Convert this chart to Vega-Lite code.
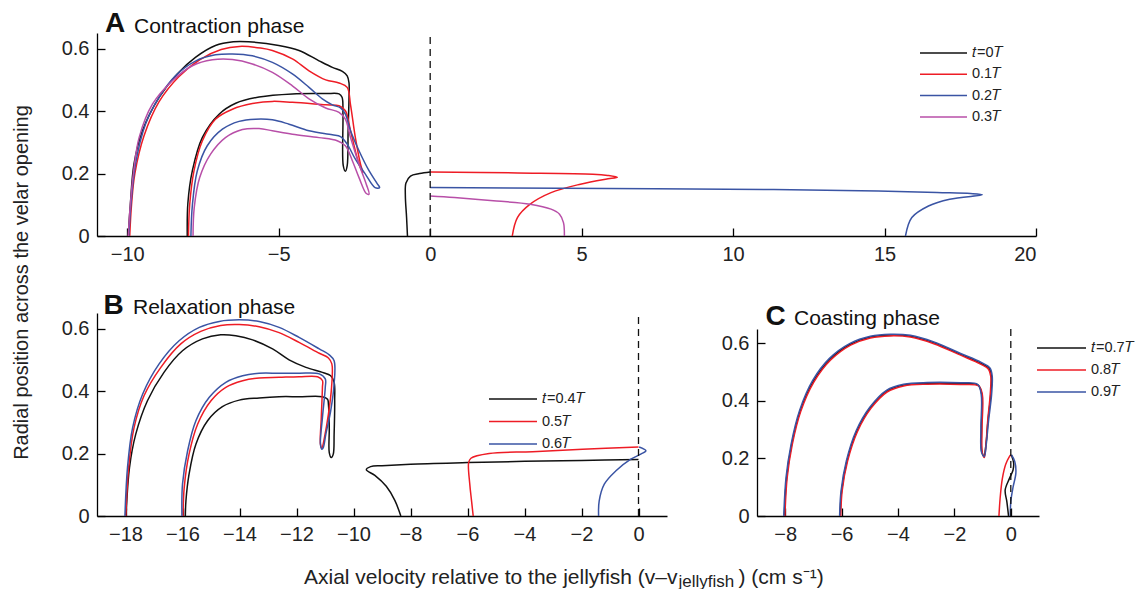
{
  "$schema": "https://vega.github.io/schema/vega-lite/v6.json",
  "background": "white",
  "padding": {"left": 10, "top": 10, "right": 5, "bottom": 0},
  "title": {"text": "A", "anchor": "start", "frame": "group", "fontSize": 28, "fontWeight": "bold", "color": "#111", "offset": -22.4, "dx": 8},
  "config": {
    "font": "Liberation Sans",
    "view": {"stroke": null},
    "axis": {"grid": false, "domainColor": "#000", "domainWidth": 1.3, "tickColor": "#000", "tickWidth": 1.3, "tickSize": -8, "labelPadding": 16, "labelFont": "Liberation Sans", "labelFontSize": 20, "labelColor": "#222", "titleFont": "Liberation Sans", "titleFontSize": 21, "titleFontWeight": "normal", "titleColor": "#222"},
    "title": {"font": "Liberation Sans", "subtitleFont": "Liberation Sans"},
    "legend": {"labelFont": "Liberation Sans"}
  },
  "datasets": {
    "a": [
      {"s":"𝑡=0𝑇","g":"a0l","i":1,"x":-9.97,"y":0},{"s":"𝑡=0𝑇","g":"a0l","i":2,"x":-9.9,"y":0.1},{"s":"𝑡=0𝑇","g":"a0l","i":3,"x":-9.78,"y":0.23},{"s":"𝑡=0𝑇","g":"a0l","i":4,"x":-9.5,"y":0.337},{"s":"𝑡=0𝑇","g":"a0l","i":5,"x":-8.95,"y":0.444},{"s":"𝑡=0𝑇","g":"a0l","i":6,"x":-8.35,"y":0.519},{"s":"𝑡=0𝑇","g":"a0l","i":7,"x":-7.75,"y":0.572},{"s":"𝑡=0𝑇","g":"a0l","i":8,"x":-7.09,"y":0.61},{"s":"𝑡=0𝑇","g":"a0l","i":9,"x":-6.5,"y":0.622},{"s":"𝑡=0𝑇","g":"a0l","i":10,"x":-6.0,"y":0.622},{"s":"𝑡=0𝑇","g":"a0l","i":11,"x":-5.0,"y":0.61},{"s":"𝑡=0𝑇","g":"a0l","i":12,"x":-4.33,"y":0.594},{"s":"𝑡=0𝑇","g":"a0l","i":13,"x":-3.67,"y":0.561},{"s":"𝑡=0𝑇","g":"a0l","i":14,"x":-3.23,"y":0.54},{"s":"𝑡=0𝑇","g":"a0l","i":15,"x":-2.9,"y":0.527},{"s":"𝑡=0𝑇","g":"a0l","i":16,"x":-2.74,"y":0.513},{"s":"𝑡=0𝑇","g":"a0l","i":17,"x":-2.68,"y":0.49},{"s":"𝑡=0𝑇","g":"a0l","i":18,"x":-2.68,"y":0.444},{"s":"𝑡=0𝑇","g":"a0l","i":19,"x":-2.71,"y":0.337},{"s":"𝑡=0𝑇","g":"a0l","i":20,"x":-2.74,"y":0.225},{"s":"𝑡=0𝑇","g":"a0l","i":21,"x":-2.8,"y":0.207},{"s":"𝑡=0𝑇","g":"a0l","i":22,"x":-2.87,"y":0.225},{"s":"𝑡=0𝑇","g":"a0l","i":23,"x":-2.88,"y":0.39},{"s":"𝑡=0𝑇","g":"a0l","i":24,"x":-2.91,"y":0.444},{"s":"𝑡=0𝑇","g":"a0l","i":25,"x":-3.01,"y":0.455},{"s":"𝑡=0𝑇","g":"a0l","i":26,"x":-3.45,"y":0.456},{"s":"𝑡=0𝑇","g":"a0l","i":27,"x":-4.55,"y":0.455},{"s":"𝑡=0𝑇","g":"a0l","i":28,"x":-5.65,"y":0.445},{"s":"𝑡=0𝑇","g":"a0l","i":29,"x":-6.42,"y":0.425},{"s":"𝑡=0𝑇","g":"a0l","i":30,"x":-6.97,"y":0.39},{"s":"𝑡=0𝑇","g":"a0l","i":31,"x":-7.52,"y":0.316},{"s":"𝑡=0𝑇","g":"a0l","i":32,"x":-7.85,"y":0.21},{"s":"𝑡=0𝑇","g":"a0l","i":33,"x":-8.0,"y":0.105},{"s":"𝑡=0𝑇","g":"a0l","i":34,"x":-8.02,"y":0},
      {"s":"𝑡=0𝑇","g":"a0j","i":1,"x":-0.75,"y":0},{"s":"𝑡=0𝑇","g":"a0j","i":2,"x":-0.78,"y":0.06},{"s":"𝑡=0𝑇","g":"a0j","i":3,"x":-0.82,"y":0.13},{"s":"𝑡=0𝑇","g":"a0j","i":4,"x":-0.8,"y":0.17},{"s":"𝑡=0𝑇","g":"a0j","i":5,"x":-0.65,"y":0.192},{"s":"𝑡=0𝑇","g":"a0j","i":6,"x":-0.35,"y":0.2},{"s":"𝑡=0𝑇","g":"a0j","i":7,"x":0,"y":0.205},
      {"s":"0.1𝑇","g":"a1l","i":1,"x":-9.92,"y":0},{"s":"0.1𝑇","g":"a1l","i":2,"x":-9.86,"y":0.1},{"s":"0.1𝑇","g":"a1l","i":3,"x":-9.75,"y":0.2},{"s":"0.1𝑇","g":"a1l","i":4,"x":-9.45,"y":0.32},{"s":"0.1𝑇","g":"a1l","i":5,"x":-8.95,"y":0.43},{"s":"0.1𝑇","g":"a1l","i":6,"x":-8.3,"y":0.51},{"s":"0.1𝑇","g":"a1l","i":7,"x":-7.6,"y":0.565},{"s":"0.1𝑇","g":"a1l","i":8,"x":-6.9,"y":0.597},{"s":"0.1𝑇","g":"a1l","i":9,"x":-6.3,"y":0.607},{"s":"0.1𝑇","g":"a1l","i":10,"x":-5.6,"y":0.602},{"s":"0.1𝑇","g":"a1l","i":11,"x":-5.21,"y":0.594},{"s":"0.1𝑇","g":"a1l","i":12,"x":-4.55,"y":0.567},{"s":"0.1𝑇","g":"a1l","i":13,"x":-4.0,"y":0.529},{"s":"0.1𝑇","g":"a1l","i":14,"x":-3.45,"y":0.5},{"s":"0.1𝑇","g":"a1l","i":15,"x":-3.01,"y":0.49},{"s":"0.1𝑇","g":"a1l","i":16,"x":-2.74,"y":0.476},{"s":"0.1𝑇","g":"a1l","i":17,"x":-2.63,"y":0.42},{"s":"0.1𝑇","g":"a1l","i":18,"x":-2.47,"y":0.315},{"s":"0.1𝑇","g":"a1l","i":19,"x":-2.3,"y":0.23},{"s":"0.1𝑇","g":"a1l","i":20,"x":-2.22,"y":0.203},{"s":"0.1𝑇","g":"a1l","i":21,"x":-2.35,"y":0.23},{"s":"0.1𝑇","g":"a1l","i":22,"x":-2.63,"y":0.337},{"s":"0.1𝑇","g":"a1l","i":23,"x":-2.8,"y":0.401},{"s":"0.1𝑇","g":"a1l","i":24,"x":-3.01,"y":0.417},{"s":"0.1𝑇","g":"a1l","i":25,"x":-3.45,"y":0.42},{"s":"0.1𝑇","g":"a1l","i":26,"x":-4.55,"y":0.428},{"s":"0.1𝑇","g":"a1l","i":27,"x":-5.21,"y":0.431},{"s":"0.1𝑇","g":"a1l","i":28,"x":-5.87,"y":0.424},{"s":"0.1𝑇","g":"a1l","i":29,"x":-6.53,"y":0.406},{"s":"0.1𝑇","g":"a1l","i":30,"x":-7.09,"y":0.374},{"s":"0.1𝑇","g":"a1l","i":31,"x":-7.52,"y":0.305},{"s":"0.1𝑇","g":"a1l","i":32,"x":-7.8,"y":0.208},{"s":"0.1𝑇","g":"a1l","i":33,"x":-7.94,"y":0.1},{"s":"0.1𝑇","g":"a1l","i":34,"x":-7.98,"y":0},
      {"s":"0.1𝑇","g":"a1j","i":1,"x":2.71,"y":0},{"s":"0.1𝑇","g":"a1j","i":2,"x":2.88,"y":0.059},{"s":"0.1𝑇","g":"a1j","i":3,"x":3.3,"y":0.102},{"s":"0.1𝑇","g":"a1j","i":4,"x":3.99,"y":0.139},{"s":"0.1𝑇","g":"a1j","i":5,"x":4.96,"y":0.166},{"s":"0.1𝑇","g":"a1j","i":6,"x":5.79,"y":0.182},{"s":"0.1𝑇","g":"a1j","i":7,"x":6.18,"y":0.188},{"s":"0.1𝑇","g":"a1j","i":8,"x":5.86,"y":0.194},{"s":"0.1𝑇","g":"a1j","i":9,"x":5.37,"y":0.198},{"s":"0.1𝑇","g":"a1j","i":10,"x":2.88,"y":0.202},{"s":"0.1𝑇","g":"a1j","i":11,"x":0,"y":0.205},
      {"s":"0.2𝑇","g":"a2l","i":1,"x":-9.95,"y":0},{"s":"0.2𝑇","g":"a2l","i":2,"x":-9.88,"y":0.1},{"s":"0.2𝑇","g":"a2l","i":3,"x":-9.73,"y":0.23},{"s":"0.2𝑇","g":"a2l","i":4,"x":-9.4,"y":0.358},{"s":"0.2𝑇","g":"a2l","i":5,"x":-8.95,"y":0.444},{"s":"0.2𝑇","g":"a2l","i":6,"x":-8.41,"y":0.513},{"s":"0.2𝑇","g":"a2l","i":7,"x":-7.75,"y":0.56},{"s":"0.2𝑇","g":"a2l","i":8,"x":-7.09,"y":0.58},{"s":"0.2𝑇","g":"a2l","i":9,"x":-6.53,"y":0.583},{"s":"0.2𝑇","g":"a2l","i":10,"x":-5.87,"y":0.577},{"s":"0.2𝑇","g":"a2l","i":11,"x":-5.21,"y":0.556},{"s":"0.2𝑇","g":"a2l","i":12,"x":-4.55,"y":0.519},{"s":"0.2𝑇","g":"a2l","i":13,"x":-4.0,"y":0.476},{"s":"0.2𝑇","g":"a2l","i":14,"x":-3.56,"y":0.439},{"s":"0.2𝑇","g":"a2l","i":15,"x":-3.23,"y":0.42},{"s":"0.2𝑇","g":"a2l","i":16,"x":-2.96,"y":0.41},{"s":"0.2𝑇","g":"a2l","i":17,"x":-2.8,"y":0.39},{"s":"0.2𝑇","g":"a2l","i":18,"x":-2.63,"y":0.337},{"s":"0.2𝑇","g":"a2l","i":19,"x":-2.35,"y":0.273},{"s":"0.2𝑇","g":"a2l","i":20,"x":-2.02,"y":0.209},{"s":"0.2𝑇","g":"a2l","i":21,"x":-1.75,"y":0.168},{"s":"0.2𝑇","g":"a2l","i":22,"x":-1.67,"y":0.155},{"s":"0.2𝑇","g":"a2l","i":23,"x":-1.82,"y":0.155},{"s":"0.2𝑇","g":"a2l","i":24,"x":-2.14,"y":0.198},{"s":"0.2𝑇","g":"a2l","i":25,"x":-2.47,"y":0.246},{"s":"0.2𝑇","g":"a2l","i":26,"x":-2.74,"y":0.294},{"s":"0.2𝑇","g":"a2l","i":27,"x":-2.96,"y":0.318},{"s":"0.2𝑇","g":"a2l","i":28,"x":-3.23,"y":0.324},{"s":"0.2𝑇","g":"a2l","i":29,"x":-4.0,"y":0.337},{"s":"0.2𝑇","g":"a2l","i":30,"x":-4.66,"y":0.358},{"s":"0.2𝑇","g":"a2l","i":31,"x":-5.21,"y":0.372},{"s":"0.2𝑇","g":"a2l","i":32,"x":-5.77,"y":0.374},{"s":"0.2𝑇","g":"a2l","i":33,"x":-6.31,"y":0.367},{"s":"0.2𝑇","g":"a2l","i":34,"x":-6.86,"y":0.342},{"s":"0.2𝑇","g":"a2l","i":35,"x":-7.36,"y":0.289},{"s":"0.2𝑇","g":"a2l","i":36,"x":-7.69,"y":0.208},{"s":"0.2𝑇","g":"a2l","i":37,"x":-7.85,"y":0.1},{"s":"0.2𝑇","g":"a2l","i":38,"x":-7.9,"y":0},
      {"s":"0.2𝑇","g":"a2j","i":1,"x":15.69,"y":0},{"s":"0.2𝑇","g":"a2j","i":2,"x":15.9,"y":0.059},{"s":"0.2𝑇","g":"a2j","i":3,"x":16.45,"y":0.096},{"s":"0.2𝑇","g":"a2j","i":4,"x":17.15,"y":0.118},{"s":"0.2𝑇","g":"a2j","i":5,"x":18.23,"y":0.132},{"s":"0.2𝑇","g":"a2j","i":6,"x":17.84,"y":0.136},{"s":"0.2𝑇","g":"a2j","i":7,"x":16.73,"y":0.139},{"s":"0.2𝑇","g":"a2j","i":8,"x":14.79,"y":0.144},{"s":"0.2𝑇","g":"a2j","i":9,"x":9.8,"y":0.15},{"s":"0.2𝑇","g":"a2j","i":10,"x":4.27,"y":0.153},{"s":"0.2𝑇","g":"a2j","i":11,"x":0,"y":0.155},
      {"s":"0.3𝑇","g":"a3l","i":1,"x":-9.97,"y":0},{"s":"0.3𝑇","g":"a3l","i":2,"x":-9.9,"y":0.1},{"s":"0.3𝑇","g":"a3l","i":3,"x":-9.8,"y":0.2},{"s":"0.3𝑇","g":"a3l","i":4,"x":-9.61,"y":0.315},{"s":"0.3𝑇","g":"a3l","i":5,"x":-9.17,"y":0.422},{"s":"0.3𝑇","g":"a3l","i":6,"x":-8.51,"y":0.497},{"s":"0.3𝑇","g":"a3l","i":7,"x":-7.85,"y":0.545},{"s":"0.3𝑇","g":"a3l","i":8,"x":-7.19,"y":0.564},{"s":"0.3𝑇","g":"a3l","i":9,"x":-6.53,"y":0.565},{"s":"0.3𝑇","g":"a3l","i":10,"x":-5.87,"y":0.551},{"s":"0.3𝑇","g":"a3l","i":11,"x":-5.21,"y":0.524},{"s":"0.3𝑇","g":"a3l","i":12,"x":-4.55,"y":0.481},{"s":"0.3𝑇","g":"a3l","i":13,"x":-4.0,"y":0.439},{"s":"0.3𝑇","g":"a3l","i":14,"x":-3.45,"y":0.41},{"s":"0.3𝑇","g":"a3l","i":15,"x":-3.01,"y":0.396},{"s":"0.3𝑇","g":"a3l","i":16,"x":-2.8,"y":0.374},{"s":"0.3𝑇","g":"a3l","i":17,"x":-2.63,"y":0.315},{"s":"0.3𝑇","g":"a3l","i":18,"x":-2.35,"y":0.23},{"s":"0.3𝑇","g":"a3l","i":19,"x":-2.11,"y":0.166},{"s":"0.3𝑇","g":"a3l","i":20,"x":-2.02,"y":0.134},{"s":"0.3𝑇","g":"a3l","i":21,"x":-2.11,"y":0.136},{"s":"0.3𝑇","g":"a3l","i":22,"x":-2.35,"y":0.187},{"s":"0.3𝑇","g":"a3l","i":23,"x":-2.57,"y":0.241},{"s":"0.3𝑇","g":"a3l","i":24,"x":-2.8,"y":0.289},{"s":"0.3𝑇","g":"a3l","i":25,"x":-3.07,"y":0.305},{"s":"0.3𝑇","g":"a3l","i":26,"x":-3.67,"y":0.315},{"s":"0.3𝑇","g":"a3l","i":27,"x":-4.55,"y":0.326},{"s":"0.3𝑇","g":"a3l","i":28,"x":-5.21,"y":0.337},{"s":"0.3𝑇","g":"a3l","i":29,"x":-5.65,"y":0.344},{"s":"0.3𝑇","g":"a3l","i":30,"x":-6.2,"y":0.341},{"s":"0.3𝑇","g":"a3l","i":31,"x":-6.76,"y":0.315},{"s":"0.3𝑇","g":"a3l","i":32,"x":-7.25,"y":0.262},{"s":"0.3𝑇","g":"a3l","i":33,"x":-7.61,"y":0.187},{"s":"0.3𝑇","g":"a3l","i":34,"x":-7.79,"y":0.091},{"s":"0.3𝑇","g":"a3l","i":35,"x":-7.83,"y":0},
      {"s":"0.3𝑇","g":"a3j","i":1,"x":4.43,"y":0},{"s":"0.3𝑇","g":"a3j","i":2,"x":4.4,"y":0.043},{"s":"0.3𝑇","g":"a3j","i":3,"x":4.27,"y":0.07},{"s":"0.3𝑇","g":"a3j","i":4,"x":3.99,"y":0.086},{"s":"0.3𝑇","g":"a3j","i":5,"x":3.3,"y":0.102},{"s":"0.3𝑇","g":"a3j","i":6,"x":2.19,"y":0.112},{"s":"0.3𝑇","g":"a3j","i":7,"x":0.8,"y":0.123},{"s":"0.3𝑇","g":"a3j","i":8,"x":0,"y":0.128}
    ],
    "b": [
      {"s":"𝑡=0.4𝑇","g":"b4l","i":1,"x":-17.98,"y":0},{"s":"𝑡=0.4𝑇","g":"b4l","i":2,"x":-17.86,"y":0.155},{"s":"𝑡=0.4𝑇","g":"b4l","i":3,"x":-17.64,"y":0.262},{"s":"𝑡=0.4𝑇","g":"b4l","i":4,"x":-17.23,"y":0.369},{"s":"𝑡=0.4𝑇","g":"b4l","i":5,"x":-16.65,"y":0.46},{"s":"𝑡=0.4𝑇","g":"b4l","i":6,"x":-16.0,"y":0.529},{"s":"𝑡=0.4𝑇","g":"b4l","i":7,"x":-15.3,"y":0.567},{"s":"𝑡=0.4𝑇","g":"b4l","i":8,"x":-14.66,"y":0.58},{"s":"𝑡=0.4𝑇","g":"b4l","i":9,"x":-14.13,"y":0.577},{"s":"𝑡=0.4𝑇","g":"b4l","i":10,"x":-13.54,"y":0.564},{"s":"𝑡=0.4𝑇","g":"b4l","i":11,"x":-12.84,"y":0.535},{"s":"𝑡=0.4𝑇","g":"b4l","i":12,"x":-12.26,"y":0.5},{"s":"𝑡=0.4𝑇","g":"b4l","i":13,"x":-11.67,"y":0.476},{"s":"𝑡=0.4𝑇","g":"b4l","i":14,"x":-11.09,"y":0.46},{"s":"𝑡=0.4𝑇","g":"b4l","i":15,"x":-10.8,"y":0.449},{"s":"𝑡=0.4𝑇","g":"b4l","i":16,"x":-10.68,"y":0.428},{"s":"𝑡=0.4𝑇","g":"b4l","i":17,"x":-10.66,"y":0.369},{"s":"𝑡=0.4𝑇","g":"b4l","i":18,"x":-10.68,"y":0.262},{"s":"𝑡=0.4𝑇","g":"b4l","i":19,"x":-10.71,"y":0.198},{"s":"𝑡=0.4𝑇","g":"b4l","i":20,"x":-10.78,"y":0.187},{"s":"𝑡=0.4𝑇","g":"b4l","i":21,"x":-10.85,"y":0.203},{"s":"𝑡=0.4𝑇","g":"b4l","i":22,"x":-10.85,"y":0.283},{"s":"𝑡=0.4𝑇","g":"b4l","i":23,"x":-10.88,"y":0.358},{"s":"𝑡=0.4𝑇","g":"b4l","i":24,"x":-10.91,"y":0.374},{"s":"𝑡=0.4𝑇","g":"b4l","i":25,"x":-11.09,"y":0.382},{"s":"𝑡=0.4𝑇","g":"b4l","i":26,"x":-11.91,"y":0.382},{"s":"𝑡=0.4𝑇","g":"b4l","i":27,"x":-12.61,"y":0.382},{"s":"𝑡=0.4𝑇","g":"b4l","i":28,"x":-13.31,"y":0.378},{"s":"𝑡=0.4𝑇","g":"b4l","i":29,"x":-14.01,"y":0.371},{"s":"𝑡=0.4𝑇","g":"b4l","i":30,"x":-14.6,"y":0.35},{"s":"𝑡=0.4𝑇","g":"b4l","i":31,"x":-15.12,"y":0.305},{"s":"𝑡=0.4𝑇","g":"b4l","i":32,"x":-15.53,"y":0.23},{"s":"𝑡=0.4𝑇","g":"b4l","i":33,"x":-15.77,"y":0.134},{"s":"𝑡=0.4𝑇","g":"b4l","i":34,"x":-15.88,"y":0.048},{"s":"𝑡=0.4𝑇","g":"b4l","i":35,"x":-15.9,"y":0},
      {"s":"𝑡=0.4𝑇","g":"b4j","i":1,"x":-8.34,"y":0},{"s":"𝑡=0.4𝑇","g":"b4j","i":2,"x":-8.55,"y":0.05},{"s":"𝑡=0.4𝑇","g":"b4j","i":3,"x":-8.85,"y":0.095},{"s":"𝑡=0.4𝑇","g":"b4j","i":4,"x":-9.25,"y":0.13},{"s":"𝑡=0.4𝑇","g":"b4j","i":5,"x":-9.55,"y":0.148},{"s":"𝑡=0.4𝑇","g":"b4j","i":6,"x":-9.4,"y":0.158},{"s":"𝑡=0.4𝑇","g":"b4j","i":7,"x":-9.0,"y":0.161},{"s":"𝑡=0.4𝑇","g":"b4j","i":8,"x":-8,"y":0.166},{"s":"𝑡=0.4𝑇","g":"b4j","i":9,"x":-6,"y":0.171},{"s":"𝑡=0.4𝑇","g":"b4j","i":10,"x":-4,"y":0.175},{"s":"𝑡=0.4𝑇","g":"b4j","i":11,"x":-2,"y":0.178},{"s":"𝑡=0.4𝑇","g":"b4j","i":12,"x":0,"y":0.181},
      {"s":"0.5𝑇","g":"b5l","i":1,"x":-17.99,"y":0},{"s":"0.5𝑇","g":"b5l","i":2,"x":-17.89,"y":0.155},{"s":"0.5𝑇","g":"b5l","i":3,"x":-17.7,"y":0.283},{"s":"0.5𝑇","g":"b5l","i":4,"x":-17.35,"y":0.385},{"s":"0.5𝑇","g":"b5l","i":5,"x":-16.76,"y":0.476},{"s":"0.5𝑇","g":"b5l","i":6,"x":-16.06,"y":0.551},{"s":"0.5𝑇","g":"b5l","i":7,"x":-15.36,"y":0.591},{"s":"0.5𝑇","g":"b5l","i":8,"x":-14.66,"y":0.61},{"s":"0.5𝑇","g":"b5l","i":9,"x":-14.01,"y":0.613},{"s":"0.5𝑇","g":"b5l","i":10,"x":-13.31,"y":0.606},{"s":"0.5𝑇","g":"b5l","i":11,"x":-12.61,"y":0.587},{"s":"0.5𝑇","g":"b5l","i":12,"x":-11.91,"y":0.556},{"s":"0.5𝑇","g":"b5l","i":13,"x":-11.2,"y":0.521},{"s":"0.5𝑇","g":"b5l","i":14,"x":-10.88,"y":0.506},{"s":"0.5𝑇","g":"b5l","i":15,"x":-10.76,"y":0.487},{"s":"0.5𝑇","g":"b5l","i":16,"x":-10.77,"y":0.412},{"s":"0.5𝑇","g":"b5l","i":17,"x":-10.88,"y":0.326},{"s":"0.5𝑇","g":"b5l","i":18,"x":-11.02,"y":0.251},{"s":"0.5𝑇","g":"b5l","i":19,"x":-11.11,"y":0.217},{"s":"0.5𝑇","g":"b5l","i":20,"x":-11.16,"y":0.23},{"s":"0.5𝑇","g":"b5l","i":21,"x":-11.13,"y":0.315},{"s":"0.5𝑇","g":"b5l","i":22,"x":-11.09,"y":0.412},{"s":"0.5𝑇","g":"b5l","i":23,"x":-11.09,"y":0.434},{"s":"0.5𝑇","g":"b5l","i":24,"x":-11.26,"y":0.446},{"s":"0.5𝑇","g":"b5l","i":25,"x":-11.91,"y":0.446},{"s":"0.5𝑇","g":"b5l","i":26,"x":-12.61,"y":0.444},{"s":"0.5𝑇","g":"b5l","i":27,"x":-13.31,"y":0.442},{"s":"0.5𝑇","g":"b5l","i":28,"x":-13.89,"y":0.433},{"s":"0.5𝑇","g":"b5l","i":29,"x":-14.48,"y":0.412},{"s":"0.5𝑇","g":"b5l","i":30,"x":-15.0,"y":0.369},{"s":"0.5𝑇","g":"b5l","i":31,"x":-15.47,"y":0.294},{"s":"0.5𝑇","g":"b5l","i":32,"x":-15.77,"y":0.198},{"s":"0.5𝑇","g":"b5l","i":33,"x":-15.94,"y":0.091},{"s":"0.5𝑇","g":"b5l","i":34,"x":-15.98,"y":0},
      {"s":"0.5𝑇","g":"b5j","i":1,"x":-5.8,"y":0},{"s":"0.5𝑇","g":"b5j","i":2,"x":-5.86,"y":0.05},{"s":"0.5𝑇","g":"b5j","i":3,"x":-5.92,"y":0.102},{"s":"0.5𝑇","g":"b5j","i":4,"x":-5.96,"y":0.171},{"s":"0.5𝑇","g":"b5j","i":5,"x":-5.88,"y":0.185},{"s":"0.5𝑇","g":"b5j","i":6,"x":-5.24,"y":0.2},{"s":"0.5𝑇","g":"b5j","i":7,"x":-3.72,"y":0.206},{"s":"0.5𝑇","g":"b5j","i":8,"x":-1.96,"y":0.214},{"s":"0.5𝑇","g":"b5j","i":9,"x":0,"y":0.221},
      {"s":"0.6𝑇","g":"b6l","i":1,"x":-18.02,"y":0},{"s":"0.6𝑇","g":"b6l","i":2,"x":-17.93,"y":0.155},{"s":"0.6𝑇","g":"b6l","i":3,"x":-17.75,"y":0.283},{"s":"0.6𝑇","g":"b6l","i":4,"x":-17.4,"y":0.39},{"s":"0.6𝑇","g":"b6l","i":5,"x":-16.82,"y":0.487},{"s":"0.6𝑇","g":"b6l","i":6,"x":-16.12,"y":0.561},{"s":"0.6𝑇","g":"b6l","i":7,"x":-15.41,"y":0.604},{"s":"0.6𝑇","g":"b6l","i":8,"x":-14.71,"y":0.623},{"s":"0.6𝑇","g":"b6l","i":9,"x":-14.01,"y":0.628},{"s":"0.6𝑇","g":"b6l","i":10,"x":-13.31,"y":0.623},{"s":"0.6𝑇","g":"b6l","i":11,"x":-12.61,"y":0.604},{"s":"0.6𝑇","g":"b6l","i":12,"x":-11.91,"y":0.572},{"s":"0.6𝑇","g":"b6l","i":13,"x":-11.2,"y":0.535},{"s":"0.6𝑇","g":"b6l","i":14,"x":-10.85,"y":0.516},{"s":"0.6𝑇","g":"b6l","i":15,"x":-10.68,"y":0.497},{"s":"0.6𝑇","g":"b6l","i":16,"x":-10.68,"y":0.423},{"s":"0.6𝑇","g":"b6l","i":17,"x":-10.8,"y":0.337},{"s":"0.6𝑇","g":"b6l","i":18,"x":-10.97,"y":0.262},{"s":"0.6𝑇","g":"b6l","i":19,"x":-11.06,"y":0.219},{"s":"0.6𝑇","g":"b6l","i":20,"x":-11.11,"y":0.214},{"s":"0.6𝑇","g":"b6l","i":21,"x":-11.16,"y":0.23},{"s":"0.6𝑇","g":"b6l","i":22,"x":-11.09,"y":0.315},{"s":"0.6𝑇","g":"b6l","i":23,"x":-10.99,"y":0.412},{"s":"0.6𝑇","g":"b6l","i":24,"x":-10.99,"y":0.439},{"s":"0.6𝑇","g":"b6l","i":25,"x":-11.2,"y":0.455},{"s":"0.6𝑇","g":"b6l","i":26,"x":-11.91,"y":0.457},{"s":"0.6𝑇","g":"b6l","i":27,"x":-12.61,"y":0.457},{"s":"0.6𝑇","g":"b6l","i":28,"x":-13.31,"y":0.457},{"s":"0.6𝑇","g":"b6l","i":29,"x":-13.89,"y":0.449},{"s":"0.6𝑇","g":"b6l","i":30,"x":-14.48,"y":0.428},{"s":"0.6𝑇","g":"b6l","i":31,"x":-15.06,"y":0.38},{"s":"0.6𝑇","g":"b6l","i":32,"x":-15.53,"y":0.305},{"s":"0.6𝑇","g":"b6l","i":33,"x":-15.82,"y":0.209},{"s":"0.6𝑇","g":"b6l","i":34,"x":-16.0,"y":0.102},{"s":"0.6𝑇","g":"b6l","i":35,"x":-16.02,"y":0},
      {"s":"0.6𝑇","g":"b6j","i":1,"x":-1.4,"y":0},{"s":"0.6𝑇","g":"b6j","i":2,"x":-1.38,"y":0.048},{"s":"0.6𝑇","g":"b6j","i":3,"x":-1.2,"y":0.102},{"s":"0.6𝑇","g":"b6j","i":4,"x":-0.8,"y":0.144},{"s":"0.6𝑇","g":"b6j","i":5,"x":-0.27,"y":0.182},{"s":"0.6𝑇","g":"b6j","i":6,"x":0.08,"y":0.198},{"s":"0.6𝑇","g":"b6j","i":7,"x":0.26,"y":0.209},{"s":"0.6𝑇","g":"b6j","i":8,"x":0.02,"y":0.221}
    ],
    "c": [
      {"s":"𝑡=0.7𝑇","g":"c7l","i":1,"x":-8.03,"y":0},{"s":"𝑡=0.7𝑇","g":"c7l","i":2,"x":-7.95,"y":0.133},{"s":"𝑡=0.7𝑇","g":"c7l","i":3,"x":-7.77,"y":0.249},{"s":"𝑡=0.7𝑇","g":"c7l","i":4,"x":-7.47,"y":0.365},{"s":"𝑡=0.7𝑇","g":"c7l","i":5,"x":-7.0,"y":0.469},{"s":"𝑡=0.7𝑇","g":"c7l","i":6,"x":-6.41,"y":0.545},{"s":"𝑡=0.7𝑇","g":"c7l","i":7,"x":-5.69,"y":0.597},{"s":"𝑡=0.7𝑇","g":"c7l","i":8,"x":-4.98,"y":0.622},{"s":"𝑡=0.7𝑇","g":"c7l","i":9,"x":-4.27,"y":0.629},{"s":"𝑡=0.7𝑇","g":"c7l","i":10,"x":-3.56,"y":0.625},{"s":"𝑡=0.7𝑇","g":"c7l","i":11,"x":-2.73,"y":0.602},{"s":"𝑡=0.7𝑇","g":"c7l","i":12,"x":-1.78,"y":0.562},{"s":"𝑡=0.7𝑇","g":"c7l","i":13,"x":-1.07,"y":0.531},{"s":"𝑡=0.7𝑇","g":"c7l","i":14,"x":-0.77,"y":0.513},{"s":"𝑡=0.7𝑇","g":"c7l","i":15,"x":-0.69,"y":0.487},{"s":"𝑡=0.7𝑇","g":"c7l","i":16,"x":-0.71,"y":0.423},{"s":"𝑡=0.7𝑇","g":"c7l","i":17,"x":-0.81,"y":0.33},{"s":"𝑡=0.7𝑇","g":"c7l","i":18,"x":-0.88,"y":0.249},{"s":"𝑡=0.7𝑇","g":"c7l","i":19,"x":-0.95,"y":0.209},{"s":"𝑡=0.7𝑇","g":"c7l","i":20,"x":-1.03,"y":0.226},{"s":"𝑡=0.7𝑇","g":"c7l","i":21,"x":-1.04,"y":0.307},{"s":"𝑡=0.7𝑇","g":"c7l","i":22,"x":-1.03,"y":0.423},{"s":"𝑡=0.7𝑇","g":"c7l","i":23,"x":-1.16,"y":0.455},{"s":"𝑡=0.7𝑇","g":"c7l","i":24,"x":-1.78,"y":0.46},{"s":"𝑡=0.7𝑇","g":"c7l","i":25,"x":-2.96,"y":0.461},{"s":"𝑡=0.7𝑇","g":"c7l","i":26,"x":-3.8,"y":0.455},{"s":"𝑡=0.7𝑇","g":"c7l","i":27,"x":-4.39,"y":0.434},{"s":"𝑡=0.7𝑇","g":"c7l","i":28,"x":-4.98,"y":0.376},{"s":"𝑡=0.7𝑇","g":"c7l","i":29,"x":-5.46,"y":0.295},{"s":"𝑡=0.7𝑇","g":"c7l","i":30,"x":-5.81,"y":0.191},{"s":"𝑡=0.7𝑇","g":"c7l","i":31,"x":-6.0,"y":0.087},{"s":"𝑡=0.7𝑇","g":"c7l","i":32,"x":-6.05,"y":0},
      {"s":"𝑡=0.7𝑇","g":"c7j","i":1,"x":-0.08,"y":0},{"s":"𝑡=0.7𝑇","g":"c7j","i":2,"x":-0.14,"y":0.05},{"s":"𝑡=0.7𝑇","g":"c7j","i":3,"x":-0.2,"y":0.09},{"s":"𝑡=0.7𝑇","g":"c7j","i":4,"x":-0.05,"y":0.13},{"s":"𝑡=0.7𝑇","g":"c7j","i":5,"x":0.08,"y":0.16},{"s":"𝑡=0.7𝑇","g":"c7j","i":6,"x":0.1,"y":0.185},{"s":"𝑡=0.7𝑇","g":"c7j","i":7,"x":0.02,"y":0.212},
      {"s":"0.8𝑇","g":"c8l","i":1,"x":-8.01,"y":0},{"s":"0.8𝑇","g":"c8l","i":2,"x":-7.93,"y":0.133},{"s":"0.8𝑇","g":"c8l","i":3,"x":-7.75,"y":0.248},{"s":"0.8𝑇","g":"c8l","i":4,"x":-7.45,"y":0.363},{"s":"0.8𝑇","g":"c8l","i":5,"x":-6.98,"y":0.466},{"s":"0.8𝑇","g":"c8l","i":6,"x":-6.39,"y":0.542},{"s":"0.8𝑇","g":"c8l","i":7,"x":-5.68,"y":0.594},{"s":"0.8𝑇","g":"c8l","i":8,"x":-4.98,"y":0.619},{"s":"0.8𝑇","g":"c8l","i":9,"x":-4.27,"y":0.626},{"s":"0.8𝑇","g":"c8l","i":10,"x":-3.56,"y":0.622},{"s":"0.8𝑇","g":"c8l","i":11,"x":-2.73,"y":0.599},{"s":"0.8𝑇","g":"c8l","i":12,"x":-1.78,"y":0.559},{"s":"0.8𝑇","g":"c8l","i":13,"x":-1.07,"y":0.528},{"s":"0.8𝑇","g":"c8l","i":14,"x":-0.79,"y":0.51},{"s":"0.8𝑇","g":"c8l","i":15,"x":-0.71,"y":0.485},{"s":"0.8𝑇","g":"c8l","i":16,"x":-0.73,"y":0.423},{"s":"0.8𝑇","g":"c8l","i":17,"x":-0.82,"y":0.33},{"s":"0.8𝑇","g":"c8l","i":18,"x":-0.88,"y":0.25},{"s":"0.8𝑇","g":"c8l","i":19,"x":-0.94,"y":0.203},{"s":"0.8𝑇","g":"c8l","i":20,"x":-1.01,"y":0.22},{"s":"0.8𝑇","g":"c8l","i":21,"x":-1.02,"y":0.307},{"s":"0.8𝑇","g":"c8l","i":22,"x":-1.01,"y":0.423},{"s":"0.8𝑇","g":"c8l","i":23,"x":-1.14,"y":0.452},{"s":"0.8𝑇","g":"c8l","i":24,"x":-1.78,"y":0.457},{"s":"0.8𝑇","g":"c8l","i":25,"x":-2.96,"y":0.458},{"s":"0.8𝑇","g":"c8l","i":26,"x":-3.8,"y":0.452},{"s":"0.8𝑇","g":"c8l","i":27,"x":-4.39,"y":0.431},{"s":"0.8𝑇","g":"c8l","i":28,"x":-4.96,"y":0.374},{"s":"0.8𝑇","g":"c8l","i":29,"x":-5.44,"y":0.293},{"s":"0.8𝑇","g":"c8l","i":30,"x":-5.79,"y":0.19},{"s":"0.8𝑇","g":"c8l","i":31,"x":-5.98,"y":0.087},{"s":"0.8𝑇","g":"c8l","i":32,"x":-6.03,"y":0},
      {"s":"0.8𝑇","g":"c8j","i":1,"x":-0.42,"y":0},{"s":"0.8𝑇","g":"c8j","i":2,"x":-0.38,"y":0.06},{"s":"0.8𝑇","g":"c8j","i":3,"x":-0.3,"y":0.13},{"s":"0.8𝑇","g":"c8j","i":4,"x":-0.18,"y":0.18},{"s":"0.8𝑇","g":"c8j","i":5,"x":-0.06,"y":0.205},{"s":"0.8𝑇","g":"c8j","i":6,"x":0,"y":0.213},
      {"s":"0.9𝑇","g":"c9l","i":1,"x":-8.05,"y":0},{"s":"0.9𝑇","g":"c9l","i":2,"x":-7.97,"y":0.134},{"s":"0.9𝑇","g":"c9l","i":3,"x":-7.79,"y":0.25},{"s":"0.9𝑇","g":"c9l","i":4,"x":-7.49,"y":0.367},{"s":"0.9𝑇","g":"c9l","i":5,"x":-7.02,"y":0.472},{"s":"0.9𝑇","g":"c9l","i":6,"x":-6.43,"y":0.548},{"s":"0.9𝑇","g":"c9l","i":7,"x":-5.7,"y":0.6},{"s":"0.9𝑇","g":"c9l","i":8,"x":-4.98,"y":0.625},{"s":"0.9𝑇","g":"c9l","i":9,"x":-4.27,"y":0.632},{"s":"0.9𝑇","g":"c9l","i":10,"x":-3.56,"y":0.628},{"s":"0.9𝑇","g":"c9l","i":11,"x":-2.73,"y":0.605},{"s":"0.9𝑇","g":"c9l","i":12,"x":-1.78,"y":0.565},{"s":"0.9𝑇","g":"c9l","i":13,"x":-1.05,"y":0.534},{"s":"0.9𝑇","g":"c9l","i":14,"x":-0.74,"y":0.515},{"s":"0.9𝑇","g":"c9l","i":15,"x":-0.66,"y":0.487},{"s":"0.9𝑇","g":"c9l","i":16,"x":-0.68,"y":0.423},{"s":"0.9𝑇","g":"c9l","i":17,"x":-0.79,"y":0.33},{"s":"0.9𝑇","g":"c9l","i":18,"x":-0.87,"y":0.249},{"s":"0.9𝑇","g":"c9l","i":19,"x":-0.94,"y":0.207},{"s":"0.9𝑇","g":"c9l","i":20,"x":-1.04,"y":0.222},{"s":"0.9𝑇","g":"c9l","i":21,"x":-1.06,"y":0.307},{"s":"0.9𝑇","g":"c9l","i":22,"x":-1.05,"y":0.423},{"s":"0.9𝑇","g":"c9l","i":23,"x":-1.18,"y":0.458},{"s":"0.9𝑇","g":"c9l","i":24,"x":-1.78,"y":0.463},{"s":"0.9𝑇","g":"c9l","i":25,"x":-2.96,"y":0.464},{"s":"0.9𝑇","g":"c9l","i":26,"x":-3.8,"y":0.458},{"s":"0.9𝑇","g":"c9l","i":27,"x":-4.41,"y":0.437},{"s":"0.9𝑇","g":"c9l","i":28,"x":-5.0,"y":0.378},{"s":"0.9𝑇","g":"c9l","i":29,"x":-5.48,"y":0.297},{"s":"0.9𝑇","g":"c9l","i":30,"x":-5.83,"y":0.192},{"s":"0.9𝑇","g":"c9l","i":31,"x":-6.02,"y":0.087},{"s":"0.9𝑇","g":"c9l","i":32,"x":-6.07,"y":0},
      {"s":"0.9𝑇","g":"c9j","i":1,"x":-0.02,"y":0},{"s":"0.9𝑇","g":"c9j","i":2,"x":0.0,"y":0.05},{"s":"0.9𝑇","g":"c9j","i":3,"x":0.08,"y":0.1},{"s":"0.9𝑇","g":"c9j","i":4,"x":0.18,"y":0.15},{"s":"0.9𝑇","g":"c9j","i":5,"x":0.14,"y":0.19},{"s":"0.9𝑇","g":"c9j","i":6,"x":0.02,"y":0.213}
    ]
  },
  "bounds": "flush",
  "spacing": 77,
  "resolve": {"scale": {"color": "independent"}},
  "vconcat": [
    {
      "width": 939,
      "height": 203,
      "title": {"text": "Contraction phase", "anchor": "start", "frame": "group", "fontSize": 21, "fontWeight": "normal", "color": "#111", "offset": -4.5, "dx": 37},
      "layer": [
        {
          "data": {"name": "a"},
          "mark": {"type": "line", "interpolate": "catmull-rom", "strokeWidth": 1.5},
          "encoding": {
            "x": {"field": "x", "type": "quantitative", "scale": {"domain": [-11, 20], "nice": false, "zero": false}, "axis": {"values": [-10, -5, 0, 5, 10, 15, 20], "title": ") (cm s⁻¹)", "titleX": 641, "titleY": 347, "titleAlign": "left", "titleBaseline": "alphabetic"}},
            "y": {"field": "y", "type": "quantitative", "scale": {"domain": [0, 0.65], "nice": false}, "axis": {"values": [0, 0.2, 0.4, 0.6], "format": "~g", "title": "Radial position across the velar opening", "titleFontSize": 20, "titleX": -76, "titleY": 249, "titleAlign": "center", "titleBaseline": "middle", "titleAngle": -90}},
            "color": {"field": "s", "type": "nominal", "scale": {"domain": ["𝑡=0𝑇", "0.1𝑇", "0.2𝑇", "0.3𝑇"], "range": ["#111111", "#ee1c25", "#3a54a4", "#b84fa8"]}, "legend": {"orient": "none", "legendX": 822, "legendY": 12.5, "title": null, "symbolType": "stroke", "symbolSize": 2209, "symbolStrokeWidth": 1.5, "clipHeight": 15, "rowPadding": 5.3, "labelFontSize": 14.5, "labelColor": "#222", "labelOffset": 4, "padding": 0}},
            "detail": {"field": "g"},
            "order": {"field": "i", "type": "quantitative"}
          }
        },
        {
          "data": {"values": [{}]},
          "mark": {"type": "rule", "strokeDash": [7, 5], "color": "#111", "strokeWidth": 1.3},
          "encoding": {"x": {"datum": 0}, "y": {"datum": 0}, "y2": {"datum": 0.65}}
        }
      ]
    },
    {
      "bounds": "flush",
      "spacing": 90,
      "resolve": {"scale": {"color": "independent"}},
      "hconcat": [
        {
          "width": 570,
          "height": 203,
          "title": {"text": "Relaxation phase", "anchor": "start", "frame": "group", "fontSize": 21, "fontWeight": "normal", "color": "#111", "offset": -26.5, "dx": 36},
          "layer": [
            {
              "data": {"name": "b"},
              "mark": {"type": "line", "interpolate": "catmull-rom", "strokeWidth": 1.5},
              "encoding": {
                "x": {"field": "x", "type": "quantitative", "scale": {"domain": [-19, 1], "nice": false, "zero": false}, "axis": {"values": [-18, -16, -14, -12, -10, -8, -6, -4, -2, 0], "title": "Axial velocity relative to the jellyfish (v–v", "titleX": 580, "titleY": 67, "titleAlign": "right", "titleBaseline": "alphabetic"}},
                "y": {"field": "y", "type": "quantitative", "scale": {"domain": [0, 0.65], "nice": false}, "axis": {"values": [0, 0.2, 0.4, 0.6], "format": "~g", "title": "B", "titleFontSize": 28, "titleFontWeight": "bold", "titleColor": "#111", "titleAngle": 0, "titleX": 6, "titleY": 0, "titleAlign": "left", "titleBaseline": "alphabetic"}},
                "color": {"field": "s", "type": "nominal", "scale": {"domain": ["𝑡=0.4𝑇", "0.5𝑇", "0.6𝑇"], "range": ["#111111", "#ee1c25", "#3a54a4"]}, "legend": {"orient": "none", "legendX": 391, "legendY": 78.5, "title": null, "symbolType": "stroke", "symbolSize": 2304, "symbolStrokeWidth": 1.5, "clipHeight": 15, "rowPadding": 6.5, "labelFontSize": 14.5, "labelColor": "#222", "labelOffset": 4, "padding": 0}},
                "detail": {"field": "g"},
                "order": {"field": "i", "type": "quantitative"}
              }
            },
            {
              "data": {"values": [{}]},
              "mark": {"type": "rule", "strokeDash": [7, 5], "color": "#111", "strokeWidth": 1.3},
              "encoding": {"x": {"datum": 0}, "y": {"datum": 0}, "y2": {"datum": 0.65}}
            }
          ]
        },
        {
          "width": 282,
          "height": 203,
          "title": {"text": "Coasting phase", "anchor": "start", "frame": "group", "fontSize": 21, "fontWeight": "normal", "color": "#111", "offset": -26.5, "dx": 37},
          "layer": [
            {
              "data": {"name": "c"},
              "mark": {"type": "line", "interpolate": "catmull-rom", "strokeWidth": 1.5},
              "encoding": {
                "x": {"field": "x", "type": "quantitative", "scale": {"domain": [-9, 1], "nice": false, "zero": false}, "axis": {"values": [-8, -6, -4, -2, 0], "title": "jellyfish", "titleFontSize": 17, "titleX": -79, "titleY": 70, "titleAlign": "left", "titleBaseline": "alphabetic"}},
                "y": {"field": "y", "type": "quantitative", "scale": {"domain": [0, 0.65], "nice": false, "range": [203, 16]}, "axis": {"values": [0, 0.2, 0.4, 0.6], "format": "~g", "title": "C", "titleFontSize": 28, "titleFontWeight": "bold", "titleColor": "#111", "titleAngle": 0, "titleX": 8, "titleY": 11, "titleAlign": "left", "titleBaseline": "alphabetic"}},
                "color": {"field": "s", "type": "nominal", "scale": {"domain": ["𝑡=0.7𝑇", "0.8𝑇", "0.9𝑇"], "range": ["#111111", "#ee1c25", "#3a54a4"]}, "legend": {"orient": "none", "legendX": 279, "legendY": 27.5, "title": null, "symbolType": "stroke", "symbolSize": 2401, "symbolStrokeWidth": 1.5, "clipHeight": 15, "rowPadding": 6, "labelFontSize": 14.5, "labelColor": "#222", "labelOffset": 4, "padding": 0}},
                "detail": {"field": "g"},
                "order": {"field": "i", "type": "quantitative"}
              }
            },
            {
              "data": {"values": [{}]},
              "mark": {"type": "rule", "strokeDash": [7, 5], "color": "#111", "strokeWidth": 1.3},
              "encoding": {"x": {"datum": 0}, "y": {"datum": 0}, "y2": {"datum": 0.65}}
            }
          ]
        }
      ]
    }
  ]
}
